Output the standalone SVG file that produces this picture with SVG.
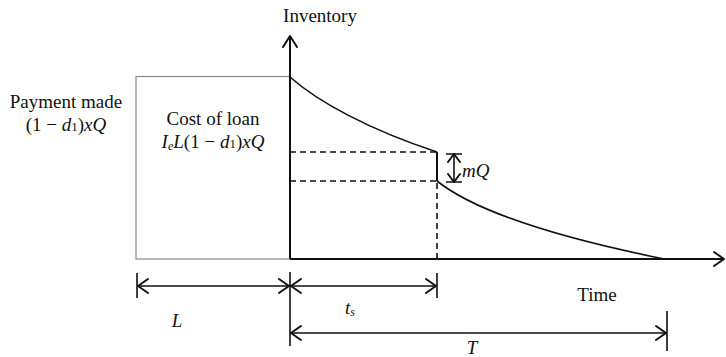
<svg xmlns="http://www.w3.org/2000/svg" width="726" height="357" viewBox="0 0 726 357">
<defs>
<style>
.t{font-family:"Liberation Serif","Times New Roman",serif;font-size:19px;fill:#111}
.i{font-style:italic}
.ax{stroke:#111;stroke-width:2;fill:none}
.ln{stroke:#111;stroke-width:1.6;fill:none}
.ds{stroke:#111;stroke-width:1.6;fill:none;stroke-dasharray:6 4}
.ch{stroke:#111;stroke-width:2;fill:none;stroke-linecap:round;stroke-linejoin:round}
</style>
</defs>
<rect width="726" height="357" fill="#fff"/>
<g id="box">
<rect x="136" y="76.5" width="154" height="182.5" fill="none" stroke="#888" stroke-width="1.2"/>
<text class="t" x="213" y="125" text-anchor="middle">Cost of loan</text>
<text class="t" x="213" y="148" text-anchor="middle"><tspan class="i">I</tspan><tspan class="i" font-size="12" dy="2">e</tspan><tspan class="i" dy="-2">L</tspan>(1 − <tspan class="i">d</tspan><tspan font-size="13">1</tspan>)<tspan class="i">xQ</tspan></text>
</g>
<g id="payment">
<text class="t" x="66" y="108" text-anchor="middle">Payment made</text>
<text class="t" x="66" y="131" text-anchor="middle">(1 − <tspan class="i">d</tspan><tspan font-size="13">1</tspan>)<tspan class="i">xQ</tspan></text>
</g>
<g id="axes">
<path class="ax" d="M290,259 V36"/>
<path class="ch" d="M283,47 L290,36 L297,47"/>
<path class="ax" d="M290,259 H724"/>
<path class="ch" d="M714,252 L724,259 L714,266"/>
<text class="t" x="320" y="22" text-anchor="middle" font-size="20">Inventory</text>
<text class="t" x="597" y="301" text-anchor="middle">Time</text>
</g>
<g id="connectors">
<path class="ln" d="M290,77 C318,102 370,130 437,152"/>
<path class="ax" d="M437,152 V181" stroke-width="2.5"/>
<path class="ln" d="M437,181 C476,212 560,238 664,259"/>
<path class="ds" d="M290,152 H437"/>
<path class="ds" d="M290,181 H437"/>
<path class="ds" d="M437,183 V259"/>
</g>
<g id="mQ">
<path class="ln" d="M446,154 H462 M446,182 H462 M454,154 V182"/>
<path class="ch" d="M448,162 L454,154 L460,162 M448,174 L454,182 L460,174" stroke-width="1.6"/>
<text class="t i" x="462" y="177">mQ</text>
</g>
<g id="dimensions">
<path class="ln" d="M137,273 V298 M290,272 V346 M437,273 V298 M667,311 V351"/>
<path class="ln" d="M137,286 H290 M290,286 H437 M290,333 H667"/>
<path class="ch" d="M148,279 L138,286 L148,293 M279,279 L289,286 L279,293 M301,279 L291,286 L301,293 M426,279 L436,286 L426,293 M301,326 L291,333 L301,340 M656,326 L666,333 L656,340"/>
<text class="t i" x="177" y="327" text-anchor="middle">L</text>
<text class="t i" x="350" y="314" text-anchor="middle">t<tspan font-size="12" dy="2">s</tspan></text>
<text class="t i" x="472" y="354" text-anchor="middle">T</text>
</g>
</svg>
